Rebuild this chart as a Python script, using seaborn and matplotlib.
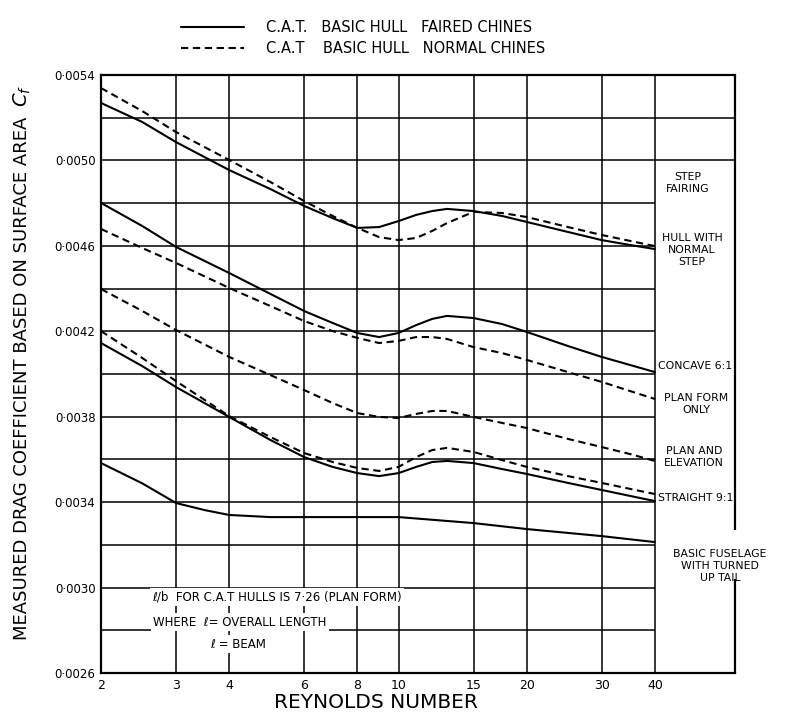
import numpy as np
import pandas as pd
import seaborn as sns
import matplotlib.pyplot as plt
from matplotlib.lines import Line2D

sns.set_style("white")
plt.rcParams['font.family'] = ['DejaVu Sans']
plt.rcParams['text.color'] = 'black'
plt.rcParams['xtick.color'] = 'black'
plt.rcParams['ytick.color'] = 'black'

# reynolds numbers
re_pts = [2, 2.5, 3, 4, 5, 6, 7, 8, 9, 10, 11, 12, 13, 15, 17.5, 20, 25, 30, 35, 40]
# Cf values, in units of 0.0001
step_faired = [52.69, 51.80, 50.86, 49.55, 48.66, 47.87, 47.30, 46.84, 46.88, 47.16,
               47.45, 47.63, 47.73, 47.63, 47.40, 47.12, 46.65, 46.27, 46.04, 45.85]
step_normal = [53.39, 52.31, 51.33, 50.02, 48.99, 48.10, 47.40, 46.84, 46.41, 46.27,
               46.37, 46.70, 47.07, 47.59, 47.54, 47.35, 46.88, 46.51, 46.23, 45.99]
concave = [48.01, 46.93, 45.95, 44.73, 43.75, 42.95, 42.39, 41.92, 41.73, 41.92,
           42.29, 42.58, 42.72, 42.62, 42.34, 41.97, 41.31, 40.80, 40.42, 40.09]
plan_form = [46.79, 45.90, 45.20, 44.03, 43.18, 42.48, 42.01, 41.69, 41.45, 41.55,
             41.73, 41.73, 41.64, 41.26, 40.98, 40.66, 40.09, 39.63, 39.20, 38.83]
plan_elev = [43.98, 42.95, 42.06, 40.80, 39.95, 39.25, 38.64, 38.17, 37.99, 37.94,
             38.13, 38.27, 38.27, 37.99, 37.71, 37.47, 36.96, 36.58, 36.25, 35.93]
straight_faired = [41.45, 40.37, 39.39, 37.99, 36.91, 36.11, 35.65, 35.36, 35.22, 35.36,
                   35.65, 35.88, 35.93, 35.83, 35.55, 35.32, 34.90, 34.57, 34.29, 34.05]
straight_normal = [42.01, 40.75, 39.67, 38.03, 37.05, 36.30, 35.88, 35.60, 35.46, 35.65,
                   36.11, 36.44, 36.54, 36.35, 35.97, 35.65, 35.22, 34.90, 34.62, 34.38]
re_fuse = [2, 2.5, 3, 3.5, 4, 5, 6, 8, 10, 15, 20, 30, 40]
fuselage = [35.83, 34.88, 33.96, 33.63, 33.40, 33.30, 33.30, 33.30, 33.30, 33.02, 32.74, 32.41, 32.13]

x_ticks = [2, 3, 4, 6, 8, 10, 15, 20, 30, 40]
y_ticks = [0.0026, 0.0030, 0.0034, 0.0038, 0.0042, 0.0046, 0.0050, 0.0054]
y_grid = [0.0028, 0.0030, 0.0032, 0.0034, 0.0036, 0.0038, 0.0040, 0.0042,
          0.0044, 0.0046, 0.0048]
y_grid_wide = [0.0050, 0.0052]

curves = [('step_faired', 'faired', re_pts, step_faired),
          ('step_normal', 'normal', re_pts, step_normal),
          ('concave', 'faired', re_pts, concave),
          ('plan_form', 'normal', re_pts, plan_form),
          ('plan_elev', 'normal', re_pts, plan_elev),
          ('straight_faired', 'faired', re_pts, straight_faired),
          ('straight_normal', 'normal', re_pts, straight_normal),
          ('fuselage', 'faired', re_fuse, fuselage)]
rows = []
for name, chine, xs, ys in curves:
    for xv, yv in zip(xs, ys):
        rows.append({'curve': name, 'chines': chine, 're': xv, 'cf': yv * 1e-4})
df = pd.DataFrame(rows)

dash = (3.5, 2.2)

fig = plt.figure(figsize=(7.85, 7.19), dpi=100)
ax = fig.add_axes([101 / 785, 46 / 719, 634 / 785, 598 / 719])

def px(x, y):
    return x / 785, 1 - y / 719

ax.set_xscale('log')
x_right = 61.7
ax.set_xlim(2, x_right)
ax.set_ylim(0.0026, 0.0054)

# grid
ax.vlines(x_ticks[1:], 0.0026, 0.0054, color='black', lw=1.1, zorder=1)
ax.hlines(y_grid, 2, 40, color='black', lw=1.1, zorder=1)
ax.hlines(y_grid_wide, 2, x_right, color='black', lw=1.1, zorder=1)

sns.lineplot(data=df, x='re', y='cf', units='curve', estimator=None, sort=False,
             style='chines', dashes={'faired': '', 'normal': dash},
             color='black', lw=1.5, legend=False, ax=ax, zorder=3)

ax.set_xticks(x_ticks)
ax.set_xticklabels([str(v) for v in x_ticks], fontsize=9)
ax.minorticks_off()
ax.set_yticks(y_ticks)
ax.set_yticklabels(['0·' + f'{v:.4f}'[2:] for v in y_ticks], fontsize=8.5)
ax.tick_params(length=0, pad=4)
ax.set_xlabel('')
ax.set_ylabel('')

for s in ['left', 'top', 'bottom']:
    ax.spines[s].set_color('black')
    ax.spines[s].set_linewidth(1.6)
ax.spines['right'].set_visible(False)
ax.vlines(x_right, 0.00327, 0.0054, color='black', lw=1.6, clip_on=False)
ax.vlines(x_right, 0.0026, 0.00304, color='black', lw=1.6, clip_on=False)

# axis titles
fig.text(*px(376, 703), 'REYNOLDS NUMBER', fontsize=14.5, ha='center', va='center')
fig.text(*px(22, 378), 'MEASURED DRAG COEFFICIENT BASED ON SURFACE AREA', fontsize=13,
         rotation=90, ha='center', va='center')
fig.text(*px(22, 96), '$C_f$', fontsize=14, rotation=90, ha='center', va='center')

# legend
handles = [Line2D([], [], color='black', lw=1.5),
           Line2D([], [], color='black', lw=1.5, ls=(0, dash))]
fig.legend(handles, ['C.A.T.   BASIC HULL   FAIRED CHINES',
                     'C.A.T    BASIC HULL   NORMAL CHINES'],
           loc='upper left', bbox_to_anchor=px(168, 7), frameon=False,
           handlelength=4.3, fontsize=10.5, labelspacing=0.4, handletextpad=1.5)

# right hand labels
lab = dict(fontsize=7.8, ha='center', va='center', linespacing=1.3)
fig.text(*px(688, 183), 'STEP\nFAIRING', **lab)
fig.text(*px(692, 250), 'HULL WITH\nNORMAL\nSTEP', **lab)
fig.text(*px(695, 366), 'CONCAVE 6:1', **lab)
fig.text(*px(696, 404), 'PLAN FORM\nONLY', **lab)
fig.text(*px(694, 457), 'PLAN AND\nELEVATION', **lab)
fig.text(*px(696, 498), 'STRAIGHT 9:1', **lab)
fig.text(*px(720, 566), 'BASIC FUSELAGE\nWITH TURNED\nUP TAIL', **lab)

# note
box = dict(facecolor='white', edgecolor='none', pad=1.5)
fig.text(*px(152, 597), 'ℓ/b  FOR C.A.T HULLS IS 7·26 (PLAN FORM)', fontsize=8.5,
         ha='left', va='center', bbox=box, zorder=5)
fig.text(*px(153, 622), 'WHERE  ℓ= OVERALL LENGTH', fontsize=8.5,
         ha='left', va='center', bbox=box, zorder=5)
fig.text(*px(210, 644), 'ℓ = BEAM', fontsize=8.5, ha='left', va='center',
         bbox=box, zorder=5)

fig.savefig('out.png', dpi=100)
